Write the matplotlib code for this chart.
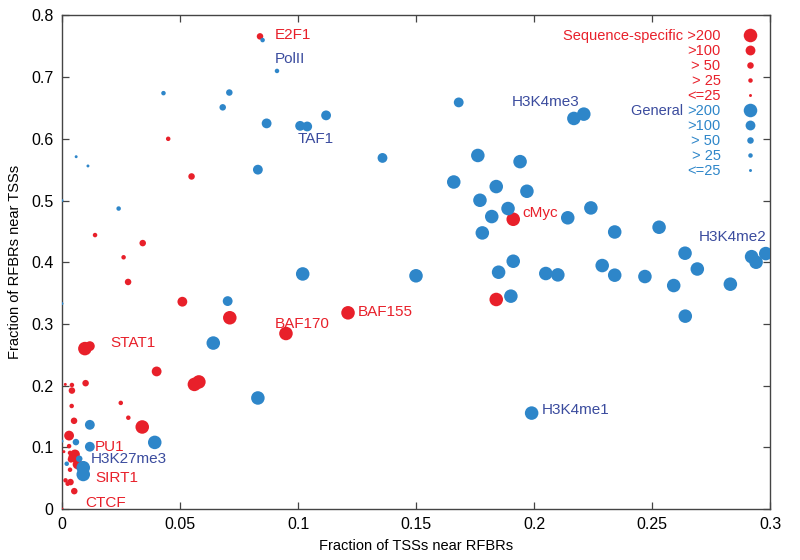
import matplotlib
matplotlib.use('Agg')
import matplotlib.pyplot as plt
from matplotlib.lines import Line2D
from matplotlib.ticker import FormatStrFormatter, MultipleLocator

plt.rcParams['font.family'] = ['Liberation Sans', 'DejaVu Sans']

# sequence-specific factors (red)
seq_x = [0.0839, 0.0450, 0.0549, 0.0140, 0.0342, 0.0261, 0.0280, 0.0510, 0.0711,
         0.0097, 0.0118, 0.0401, 0.0561, 0.0580, 0.0100, 0.0014, 0.0042, 0.0042,
         0.0249, 0.0041, 0.0281, 0.0051, 0.0340, 0.0030, 0.0030, 0.0008, 0.0034,
         0.0055, 0.0048, 0.0038, 0.0066, 0.0034, 0.0015, 0.0036, 0.0024, 0.0052,
         0.0, 0.0949, 0.1212, 0.1912, 0.1840]
seq_y = [0.766, 0.600, 0.539, 0.444, 0.431, 0.408, 0.368, 0.336, 0.310,
         0.260, 0.264, 0.223, 0.202, 0.206, 0.204, 0.202, 0.201, 0.192,
         0.172, 0.167, 0.148, 0.143, 0.133, 0.119, 0.102, 0.093, 0.091,
         0.0885, 0.084, 0.0805, 0.0724, 0.0637, 0.0465, 0.0437, 0.041, 0.029,
         0.0, 0.2845, 0.318, 0.4696, 0.3396]
seq_n = ['>50', '>25', '>50', '>25', '>50', '>25', '>50', '>100', '>200',
         '>200', '>100', '>100', '>200', '>200', '>50', '<=25', '>25', '>50',
         '>25', '>25', '>25', '>50', '>200', '>100', '>25', '<=25', '>25',
         '>100', '>100', '>50', '>100', '>25', '>25', '>50', '>25', '>50',
         '<=25', '>200', '>200', '>200', '>200']

# general factors (blue)
gen_x = [0.0850, 0.0911, 0.0430, 0.0709, 0.0681, 0.0867, 0.1009, 0.1039, 0.1119,
         0.0830, 0.1358, 0.1681, 0.2169, 0.2211, 0.1762, 0.1941, 0.1660, 0.1840,
         0.1970, 0.1771, 0.1890, 0.2241, 0.1821, 0.2143, 0.1781, 0.2342, 0.2530,
         0.2640, 0.1912, 0.1850, 0.2050, 0.2101, 0.2289, 0.2342, 0.2470, 0.2592,
         0.2692, 0.2832, 0.2641, 0.2922, 0.2941, 0.2982, 0.1902, 0.1500, 0.1020,
         0.1990, 0.0060, 0.0110, 0.0, 0.0240, 0.0, 0.0702, 0.0641, 0.0830,
         0.0393, 0.0118, 0.0059, 0.0118, 0.0, 0.0073, 0.0020, 0.0090, 0.0090]
gen_y = [0.760, 0.710, 0.674, 0.675, 0.651, 0.625, 0.621, 0.620, 0.638,
         0.550, 0.569, 0.659, 0.633, 0.640, 0.573, 0.563, 0.530, 0.5226,
         0.515, 0.5004, 0.487, 0.488, 0.474, 0.472, 0.4475, 0.449, 0.4567,
         0.4146, 0.4016, 0.3838, 0.3817, 0.3795, 0.3946, 0.379, 0.3768, 0.3622,
         0.389, 0.3644, 0.3126, 0.409, 0.400, 0.414, 0.345, 0.378, 0.381,
         0.1555, 0.571, 0.556, 0.500, 0.487, 0.333, 0.337, 0.269, 0.180,
         0.108, 0.1365, 0.1085, 0.101, 0.110, 0.0815, 0.0734, 0.067, 0.056]
gen_n = ['>25', '>25', '>25', '>50', '>50', '>100', '>100', '>100', '>100',
         '>100', '>100', '>100', '>200', '>200', '>200', '>200', '>200', '>200',
         '>200', '>200', '>200', '>200', '>200', '>200', '>200', '>200', '>200',
         '>200', '>200', '>200', '>200', '>200', '>200', '>200', '>200', '>200',
         '>200', '>200', '>200', '>200', '>200', '>200', '>200', '>200', '>200',
         '>200', '<=25', '<=25', '<=25', '>25', '<=25', '>100', '>200', '>200',
         '>200', '>100', '>50', '>100', '<=25', '>50', '>25', '>200', '>200']

# named factors
label_names = ['E2F1', 'PolII', 'TAF1', 'H3K4me3', 'cMyc', 'H3K4me2', 'BAF155',
               'BAF170', 'STAT1', 'PU1', 'H3K27me3', 'SIRT1', 'CTCF', 'H3K4me1']
label_x = [0.0902, 0.0902, 0.1000, 0.1906, 0.1952, 0.2700, 0.1255,
           0.0902, 0.0203, 0.0140, 0.0121, 0.0140, 0.0100, 0.2032]
label_y = [0.769, 0.730, 0.5997, 0.659, 0.480, 0.441, 0.3195,
           0.300, 0.2693, 0.1004, 0.0815, 0.0507, 0.0092, 0.160]
label_kind = ['seq', 'gen', 'gen', 'gen', 'seq', 'gen', 'seq',
              'seq', 'seq', 'seq', 'gen', 'seq', 'seq', 'gen']

bins = ['>200', '>100', '> 50', '> 25', '<=25']
bin_keys = ['>200', '>100', '>50', '>25', '<=25']
area = {'>200': 95, '>100': 50, '>50': 22, '>25': 10.5, '<=25': 4.5}

red = '#e8202a'
blue = '#2e86c9'
blue_txt = '#3b4c9e'

fig = plt.figure(figsize=(8, 5.6), dpi=100)
ax = fig.add_axes([0.0775, 0.091, 0.885, 0.8815])

ax.scatter(seq_x, seq_y, s=[area[n] for n in seq_n], c=red, linewidths=0, zorder=3)
ax.scatter(gen_x, gen_y, s=[area[n] for n in gen_n], c=blue, linewidths=0, zorder=4)

for name, x, y, k in zip(label_names, label_x, label_y, label_kind):
    ax.text(x, y, name, color=red if k == 'seq' else blue_txt, fontsize=11,
            ha='left', va='center', zorder=5)

ax.set_xlim(0, 0.3)
ax.set_ylim(0, 0.8)
ax.xaxis.set_major_locator(MultipleLocator(0.05))
ax.yaxis.set_major_locator(MultipleLocator(0.1))
ax.xaxis.set_major_formatter(FormatStrFormatter('%g'))
ax.yaxis.set_major_formatter(FormatStrFormatter('%g'))
ax.tick_params(direction='in', top=True, right=True, length=5, width=0.9,
               color='#444444', labelsize=11.5, pad=6)
for sp in ax.spines.values():
    sp.set_color('#444444')
    sp.set_linewidth(1.0)

ax.set_xlabel('Fraction of TSSs near RFBRs', fontsize=10.5, labelpad=5)
ax.set_ylabel('Fraction of RFBRs near TSSs', fontsize=10.5, labelpad=7)

# legend
handles = []
labels = []
for i, b in enumerate(bin_keys):
    handles.append(Line2D([], [], ls='none', marker='o', mec='none', mfc=red,
                          markersize=area[b] ** 0.5))
    labels.append(('Sequence-specific ' if i == 0 else '') + bins[i])
for i, b in enumerate(bin_keys):
    handles.append(Line2D([], [], ls='none', marker='o', mec='none', mfc=blue,
                          markersize=area[b] ** 0.5))
    labels.append(bins[i])
leg = ax.legend(handles, labels, loc='upper right', bbox_to_anchor=(0.994, 0.993),
                frameon=False, markerfirst=False, fontsize=10.5, labelspacing=0.07,
                handlelength=0.8, handletextpad=1.6, borderpad=0.2)
leg.set_zorder(6)
for i, t in enumerate(leg.get_texts()):
    t.set_color(red if i < 5 else blue)
ax.annotate('General ', xy=(0, 0), xycoords=leg.get_texts()[5], ha='right',
            va='bottom', color=blue_txt, fontsize=10.5, zorder=7)

fig.savefig('out.png', dpi=100)
